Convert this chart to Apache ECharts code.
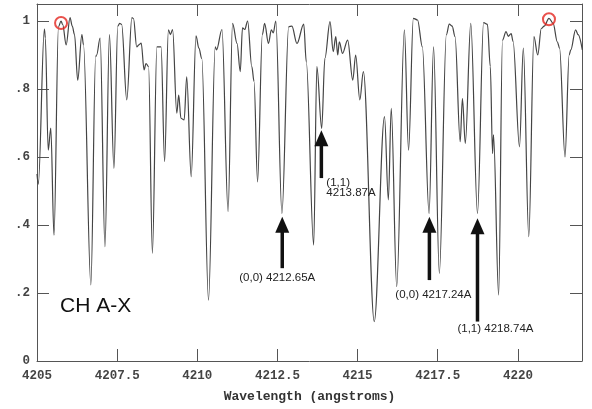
<!DOCTYPE html>
<html>
<head>
<meta charset="utf-8">
<script src="https://cdn.jsdelivr.net/npm/echarts@6/dist/echarts.min.js"></script>
<style>
  html, body { margin: 0; padding: 0; background: #fff; }
  #chart { width: 592px; height: 409px; }
</style>
</head>
<body>
<div id="chart"></div>
<script>
// Spectrum: wavelength (angstroms) and normalized intensity
const wavelength = [
  4205.00, 4205.04, 4205.23, 4205.26, 4205.35, 4205.43, 4205.53, 4205.67, 4205.75, 4205.80,
  4205.91, 4206.03, 4206.10, 4206.17, 4206.27, 4206.40, 4206.45, 4206.68, 4206.83, 4206.86,
  4206.97, 4207.12, 4207.26, 4207.40, 4207.52, 4207.58, 4207.64, 4207.80, 4207.96, 4208.01,
  4208.11, 4208.18, 4208.25, 4208.34, 4208.40, 4208.48, 4208.60, 4208.74, 4208.87, 4208.98,
  4209.10, 4209.16, 4209.23, 4209.36, 4209.42, 4209.49, 4209.59, 4209.67, 4209.81, 4209.96,
  4210.05, 4210.14, 4210.35, 4210.56, 4210.60, 4210.77, 4210.96, 4211.10, 4211.24, 4211.34,
  4211.41, 4211.48, 4211.57, 4211.70, 4211.77, 4211.88, 4212.03, 4212.10, 4212.22, 4212.31,
  4212.37, 4212.45, 4212.64, 4212.85, 4212.95, 4213.11, 4213.32, 4213.40, 4213.63, 4213.73,
  4213.88, 4213.98, 4214.14, 4214.24, 4214.32, 4214.38, 4214.43, 4214.53, 4214.69, 4214.85,
  4214.94, 4215.07, 4215.18, 4215.52, 4215.84, 4215.96, 4216.05, 4216.22, 4216.46, 4216.59,
  4216.74, 4216.87, 4217.02, 4217.23, 4217.37, 4217.55, 4217.77, 4217.86, 4217.95, 4218.04,
  4218.20, 4218.27, 4218.36, 4218.53, 4218.74, 4218.93, 4219.05, 4219.14, 4219.21, 4219.24,
  4219.40, 4219.52, 4219.63, 4219.70, 4219.79, 4219.85, 4220.05, 4220.17, 4220.34, 4220.50,
  4220.62, 4220.73, 4220.82, 4220.97, 4221.10, 4221.23, 4221.30, 4221.47, 4221.60, 4221.65,
  4221.80, 4221.88, 4222.01
];
const intensity = [
  0.550, 0.520, 0.976, 0.950, 0.620, 0.685, 0.370, 0.983, 1.000, 0.990,
  0.930, 1.010, 0.985, 0.960, 0.826, 0.960, 0.930, 0.224, 0.895, 0.900,
  0.950, 0.336, 0.960, 0.567, 0.985, 0.993, 0.990, 0.768, 1.010, 1.007,
  0.924, 0.930, 0.935, 0.856, 0.875, 0.866, 0.317, 0.924, 0.924, 0.586,
  0.974, 0.960, 0.975, 0.729, 0.782, 0.714, 0.709, 0.836, 0.542, 0.956,
  0.920, 0.890, 0.179, 0.924, 0.915, 0.975, 0.440, 0.993, 0.934, 0.851,
  0.980, 0.975, 1.000, 0.866, 0.822, 0.527, 0.960, 0.993, 0.934, 0.974,
  0.965, 1.000, 0.434, 0.983, 0.985, 0.934, 0.991, 0.880, 0.341, 0.866,
  0.684, 0.890, 0.998, 0.910, 0.954, 0.900, 0.939, 0.905, 0.944, 0.826,
  0.900, 0.768, 0.851, 0.116, 0.719, 0.474, 0.743, 0.219, 0.974, 0.620,
  1.008, 1.003, 0.924, 0.434, 0.924, 0.258, 0.960, 0.991, 0.985, 0.954,
  0.645, 0.772, 0.640, 0.993, 0.434, 0.995, 0.990, 0.866, 0.610, 0.665,
  0.194, 0.944, 0.969, 0.955, 0.963, 0.940, 0.630, 0.920, 0.366, 0.954,
  0.900, 0.978, 0.985, 1.008, 0.993, 0.939, 0.920, 0.600, 0.900, 0.915,
  0.974, 0.960, 0.915
];

// Continuum reference points (circled)
const refWavelength = [4205.75, 4220.97];
const refIntensity = [0.994, 1.005];

// Band-head line identifications
const lineWavelength = [4212.65, 4213.87, 4217.24, 4218.74];
const arrowTip = [0.424, 0.679, 0.424, 0.420];
const arrowTail = [0.273, 0.538, 0.238, 0.116];
const lineLabels = ['(0,0) 4212.65A', '(1,1)\n4213.87A', '(0,0) 4217.24A', '(1,1) 4218.74A'];
// label placement relative to arrow tail: dx, dy (px), text alignment
const labelDx = [-5, 5, 4, 18];
const labelDy = [4, -1, 9, 2];
const labelAlign = ['center', 'left', 'center', 'center'];

const xTickStep = 2.5;
const yTickStep = 0.2;

const monoFont = 'Liberation Mono, Courier New, monospace';
const axisColor = '#555';

function xLabel(v) {
  const r = Math.round(v / xTickStep) * xTickStep;
  if (Math.abs(r - v) > 1e-6) return '';
  return String(r);
}
function yLabel(v) {
  const k = Math.round(v * 10);
  if (Math.abs(k / 10 - v) > 1e-6) return '';
  if (k === 0) return '0';
  if (k === 10) return '1';
  return '.' + k;
}

const chart = echarts.init(document.getElementById('chart'));

const tickStyle = { show: true, inside: true, length: 12, lineStyle: { color: axisColor, width: 1 } };
const lineStyleAxis = { show: true, onZero: false, lineStyle: { color: axisColor, width: 1 } };

chart.setOption({
  animation: false,
  backgroundColor: '#fff',
  grid: { left: 37, right: 10, top: 4, bottom: 48 },
  xAxis: [
    {
      type: 'value', min: 4205, max: 4222, interval: xTickStep,
      axisLine: lineStyleAxis, axisTick: tickStyle, splitLine: { show: false },
      axisLabel: {
        formatter: xLabel, margin: 8, fontFamily: monoFont, fontWeight: 'bold',
        fontSize: 12.5, color: '#444', showMaxLabel: true, showMinLabel: true
      },
      name: 'Wavelength (angstroms)', nameLocation: 'middle', nameGap: 29,
      nameTextStyle: { fontFamily: monoFont, fontWeight: 'bold', fontSize: 13, color: '#333' }
    },
    {
      type: 'value', position: 'top', min: 4205, max: 4222, interval: xTickStep,
      axisLine: lineStyleAxis, axisTick: tickStyle, axisLabel: { show: false },
      splitLine: { show: false }
    }
  ],
  yAxis: [
    {
      type: 'value', min: 0, max: 1.05, interval: yTickStep,
      axisLine: lineStyleAxis, axisTick: tickStyle, splitLine: { show: false },
      axisLabel: {
        formatter: yLabel, margin: 7, fontFamily: monoFont, fontWeight: 'bold',
        fontSize: 12.5, color: '#444'
      }
    },
    {
      type: 'value', position: 'right', min: 0, max: 1.05, interval: yTickStep,
      axisLine: lineStyleAxis, axisTick: tickStyle, axisLabel: { show: false },
      splitLine: { show: false }
    }
  ],
  graphic: [
    {
      type: 'text', left: 60, top: 296,
      style: { text: 'CH A-X', font: '21px "Liberation Sans", Arial, sans-serif', fill: '#111' }
    }
  ],
  series: [
    {
      type: 'line',
      data: wavelength.map((w, i) => [w, intensity[i]]),
      showSymbol: false,
      smooth: 0.35,
      smoothMonotone: 'x',
      lineStyle: { color: '#444', width: 1.2 },
      z: 2
    },
    {
      type: 'scatter',
      data: refWavelength.map((w, i) => [w, refIntensity[i]]),
      symbol: 'circle',
      symbolSize: 12,
      itemStyle: { color: 'rgba(0,0,0,0)', borderColor: '#e3261f', borderWidth: 2 },
      z: 4
    },
    {
      type: 'custom',
      data: lineWavelength.map((w, i) => [w, arrowTip[i], arrowTail[i]]),
      clip: false,
      z: 5,
      renderItem(params, api) {
        const i = params.dataIndex;
        const tip = api.coord([api.value(0), api.value(1)]);
        const tail = api.coord([api.value(0), api.value(2)]);
        const headH = 16, headW = 14, shaftW = 3.5;
        return {
          type: 'group',
          children: [
            {
              type: 'rect',
              shape: { x: tip[0] - shaftW / 2, y: tip[1] + headH - 1, width: shaftW, height: tail[1] - tip[1] - headH + 1 },
              style: { fill: '#111' }
            },
            {
              type: 'polygon',
              shape: { points: [[tip[0], tip[1]], [tip[0] - headW / 2, tip[1] + headH], [tip[0] + headW / 2, tip[1] + headH]] },
              style: { fill: '#111' }
            },
            {
              type: 'text',
              x: tail[0] + labelDx[i],
              y: tail[1] + labelDy[i],
              style: {
                text: lineLabels[i],
                font: '11.5px "Liberation Sans", Arial, sans-serif',
                fill: '#222',
                align: labelAlign[i],
                verticalAlign: 'top',
                lineHeight: 10.5
              }
            }
          ]
        };
      }
    }
  ]
});
</script>
</body>
</html>
